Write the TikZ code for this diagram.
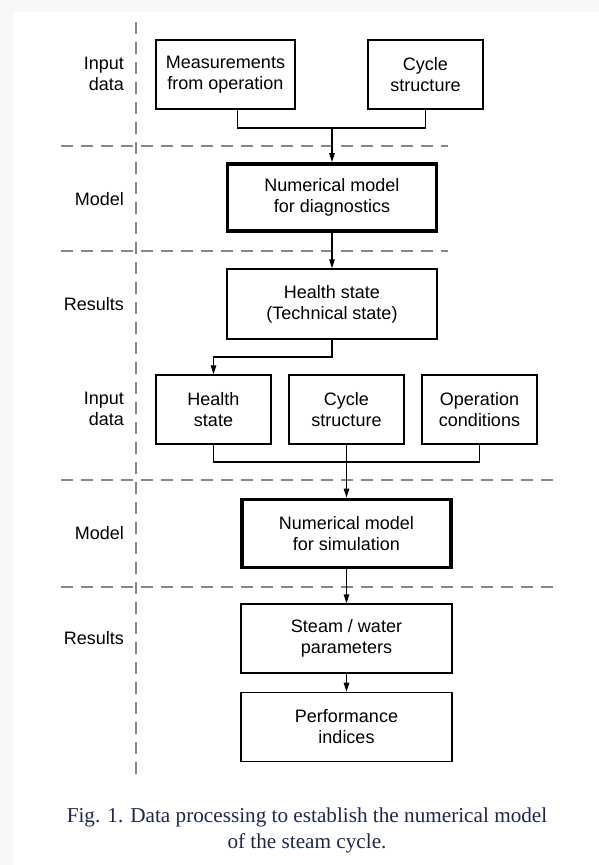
\documentclass[tikz,border=0pt]{standalone}
\usepackage{fontspec}
\setmainfont{Liberation Sans}
\newfontfamily\capfont{Liberation Serif}
\usetikzlibrary{arrows.meta,positioning}
\definecolor{capblue}{RGB}{30,38,85}
\definecolor{sepgray}{RGB}{135,135,135}
\definecolor{pagegray}{RGB}{247,247,247}

\begin{document}
\begin{tikzpicture}[
	x = 1pt, y = -1pt, % pixel-like coordinates, y pointing down
	> = {Triangle[length=9pt,width=5.5pt]}, % arrow head style
	box/.style={draw=black, line width=1.4pt, inner sep=0pt, minimum height=69pt, align=center, font=\fontsize{18}{21}\selectfont},
	mainbox/.style={box, line width=3.8pt},
	lbl/.style={anchor=east, align=right, inner sep=0pt, font=\fontsize{18}{21}\selectfont},
	sep/.style={draw=sepgray, line width=2.4pt, dash pattern=on 12pt off 8pt},
	flow/.style={line width=1.4pt},
	]

	% page
	\fill[pagegray] (0,0) rectangle (599,865);
	\fill[white] (14,12) rectangle (599,865);
	\useasboundingbox (0,0) rectangle (599,865);

	% separating lines
	\draw[sep] (136,22) -- (136,779);
	\draw[sep] (61,146) -- (448,146);
	\draw[sep] (61,251) -- (448,251);
	\draw[sep] (61,480) -- (556,480);
	\draw[sep] (61,587) -- (556,587);

	% row labels
	\node[lbl] (in1)  at (124,74)  {Input\\data};
	\node[lbl] (mod1) at (124,199) {Model};
	\node[lbl] (res1) at (124,304) {Results};
	\node[lbl] (in2)  at (124,409) {Input\\data};
	\node[lbl] (mod2) at (124,533) {Model};
	\node[lbl] (res2) at (124,638) {Results};

	% boxes
	\node[box, minimum width=139pt] (meas) at (225.5,74.5) {Measurements\\from operation};
	\node[box, minimum width=115pt] (cyc)  at (425.5,74.5) {Cycle\\structure};
	\node[mainbox, minimum width=209pt, minimum height=67pt] (diag) at (332,197.5) {Numerical model\\for diagnostics};
	\node[box, minimum width=210pt, minimum height=70pt] (health) at (332,304) {Health state\\(Technical state)};
	\node[box, minimum width=115pt] (hs)  at (213.5,409.5) {Health\\state};
	\node[box, minimum width=115pt] (cs)  at (346.5,409.5) {Cycle\\structure};
	\node[box, minimum width=115pt] (oc)  at (479.5,409.5) {Operation\\conditions};
	\node[mainbox, minimum width=209pt, minimum height=68pt] (sim) at (346.5,533.5) {Numerical model\\for simulation};
	\node[box, minimum width=211pt] (steam) at (346.5,638.5) {Steam / water\\parameters};
	\node[box, minimum width=211pt] (perf) [below=18pt of steam] {Performance\\indices};

	% junctions
	\coordinate (j1) at (332,128);
	\coordinate (j2) at (332,357);
	\coordinate (j3) at (346.5,462);

	% connectors
	\draw[flow] ([xshift=12pt]meas.south) |- (j1) -| (cyc.south);
	\draw[flow,->] (j1) -- (diag.north);
	\draw[flow,->] (diag.south) -- (health.north);
	\draw[flow,->] (health.south) -- (j2) -| (hs.north);
	\draw[flow] (hs.south) |- (j3) -| (oc.south);
	\draw[flow,->] (cs.south) -- (sim.north);
	\draw[flow,->] (sim.south) -- (steam.north);
	\draw[flow,->] (steam.south) -- (perf.north);

	% caption
	\node[align=center, text=capblue, inner sep=0pt, font=\capfont\fontsize{21.2}{26}\selectfont] (cap) at (307,830)
		{Fig. 1. Data processing to establish the numerical model\\of the steam cycle.};

\end{tikzpicture}
\end{document}
